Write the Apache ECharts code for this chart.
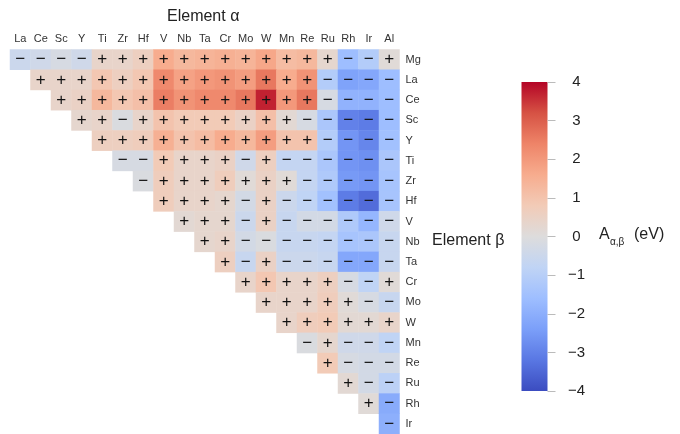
<!DOCTYPE html>
<html>
<head>
<meta charset="utf-8">
<script src="https://cdn.jsdelivr.net/npm/echarts@6/dist/echarts.min.js"></script>
<style>
  html, body { margin: 0; padding: 0; background: #fff; }
  #chart { width: 680px; height: 434px; }
</style>
</head>
<body>
<div id="chart"></div>
<script>
// Element alpha (columns) and element beta (rows)
const colNames = ['La','Ce','Sc','Y','Ti','Zr','Hf','V','Nb','Ta','Cr','Mo','W','Mn','Re','Ru','Rh','Ir','Al'];
const rowNames = ['Mg','La','Ce','Sc','Y','Ti','Zr','Hf','V','Nb','Ta','Cr','Mo','W','Mn','Re','Ru','Rh','Ir'];

// A_{alpha,beta} in eV; row k starts at column k (upper triangle)
const rowMg = [-0.5,-0.4,-0.2,-0.4,0.4,0.4,0.6,1.6,1.3,1.4,1.5,1.4,1.7,1.2,1.3,0.3,-1.6,-1.1,0.1];
const rowLa = [0.4,0.4,0.4,0.9,0.6,0.9,2.3,1.8,2.0,2.1,1.9,2.6,1.6,2.1,-1.1,-2.3,-2.2,-1.6];
const rowCe = [0.4,0.5,1.3,0.9,1.1,2.5,2.1,2.3,2.3,2.6,3.7,2.0,2.6,-0.2,-1.9,-1.9,-1.6];
const rowSc = [0.3,0.4,-0.1,0.4,1.0,0.8,0.8,0.8,0.5,1.1,0.2,-0.2,-1.3,-3.0,-3.1,-1.6];
const rowY  = [0.6,0.6,0.7,1.5,1.0,1.2,1.6,1.3,1.9,1.0,1.0,-1.1,-2.6,-2.9,-1.5];
const rowTi = [-0.2,-0.2,0.8,0.4,0.4,0.5,-0.4,0.6,-0.7,-0.7,-1.3,-2.6,-2.7,-1.3];
const rowZr = [-0.1,0.7,0.4,0.4,0.7,0.1,0.5,0.1,-0.7,-1.2,-2.5,-2.6,-1.4];
const rowHf = [0.7,0.4,0.4,0.3,-0.3,0.5,-0.5,-0.8,-1.5,-3.1,-3.4,-1.4];
const rowV  = [0.2,0.3,0.3,-0.5,0.5,-0.6,-0.3,-0.3,-1.2,-1.8,-0.4];
const rowNb = [0.3,0.4,-0.3,-0.1,-0.6,-0.6,-0.7,-1.4,-1.3,-0.6];
const rowTa = [0.6,-0.6,0.5,-0.5,-0.5,-0.6,-2.2,-2.2,-0.6];
const rowCr = [0.4,0.9,0.4,0.4,0.6,-0.2,-0.8,0.1];
const rowMo = [0.4,0.4,0.4,0.7,0.1,-0.2,-0.6];
const rowW  = [0.4,0.7,0.8,0.2,0.2,0.4];
const rowMn = [-0.1,0.3,-0.4,-0.4,-0.8];
const rowRe = [0.8,-0.2,-0.3,-0.3];
const rowRu = [0.2,-0.3,-0.9];
const rowRh = [0.1,-2.1];
const rowIr = [-2.0];

const rows = [rowMg,rowLa,rowCe,rowSc,rowY,rowTi,rowZr,rowHf,rowV,rowNb,rowTa,rowCr,rowMo,rowW,rowMn,rowRe,rowRu,rowRh,rowIr];

// colour bar ticks
const barMin = -4, barMax = 4, barStep = 1;

// coolwarm colour map, low to high
const coolwarm = ['#3b4cc0','#5977e3','#7b9ff9','#9ebeff','#c0d4f5','#dddcdc','#f2cbb7','#f7ac8e','#ee8468','#d65244','#b40426'];

const cells = [];
rows.forEach((vals, r) => {
  vals.forEach((v, i) => cells.push([r + i, r, v]));
});

const FONT = '"Liberation Sans", Arial, Helvetica, sans-serif';
const minus = s => String(s).replace('-', '\u2212');

const barX = 521.5, barY = 82, barW = 26, barH = 309;

const chart = echarts.init(document.getElementById('chart'), null, { renderer: 'canvas' });
chart.setOption({
  animation: false,
  backgroundColor: '#fff',
  textStyle: { fontFamily: FONT },
  grid: [
    { left: 10, top: 49.5, width: 389.5, height: 387.6 },
    { left: barX, top: barY, width: barW, height: barH }
  ],
  xAxis: [
    {
      type: 'category', data: colNames, position: 'top', gridIndex: 0,
      axisLine: { show: false }, axisTick: { show: false }, splitLine: { show: false },
      axisLabel: { fontSize: 11, color: '#333', margin: 5, interval: 0, fontFamily: FONT }
    },
    { type: 'value', gridIndex: 1, show: false, min: 0, max: 1 }
  ],
  yAxis: [
    {
      type: 'category', data: rowNames, inverse: true, position: 'right', gridIndex: 0,
      axisLine: { show: false }, axisTick: { show: false }, splitLine: { show: false },
      axisLabel: { fontSize: 11, color: '#333', margin: 6, interval: 0, fontFamily: FONT }
    },
    {
      type: 'value', gridIndex: 1, position: 'right', min: barMin, max: barMax, interval: barStep,
      axisLine: { show: false, onZero: false }, splitLine: { show: false },
      axisTick: { show: true, inside: false, length: 8, lineStyle: { color: '#bbb', width: 1 } },
      axisLabel: { fontSize: 15, color: '#222', margin: 29, align: 'center', fontFamily: FONT, formatter: v => minus(v) }
    }
  ],
  visualMap: {
    show: false, type: 'continuous', seriesIndex: 0,
    min: barMin, max: barMax, inRange: { color: coolwarm }
  },
  graphic: [
    {
      type: 'rect', left: barX, top: barY, z: 0,
      shape: { width: barW, height: barH },
      style: {
        fill: new echarts.graphic.LinearGradient(0, 1, 0, 0,
          coolwarm.map((c, i) => ({ offset: i / (coolwarm.length - 1), color: c })))
      }
    },
    { type: 'text', left: 167, top: 9, style: { text: 'Element \u03b1', fill: '#222', font: '16px ' + FONT } },
    { type: 'text', left: 432, top: 233, style: { text: 'Element \u03b2', fill: '#222', font: '16px ' + FONT } },
    { type: 'text', left: 599, top: 227, style: { text: 'A', fill: '#222', font: '16px ' + FONT } },
    { type: 'text', left: 610, top: 237, style: { text: '\u03b1,\u03b2', fill: '#222', font: '10px ' + FONT } },
    { type: 'text', left: 634, top: 227, style: { text: '(eV)', fill: '#222', font: '16px ' + FONT } }
  ],
  series: [
    {
      type: 'heatmap', xAxisIndex: 0, yAxisIndex: 0, data: cells,
      itemStyle: { borderWidth: 0 },
      label: {
        show: true, fontSize: 17, color: '#111', fontFamily: FONT,
        formatter: p => (p.value[2] > 0 ? '+' : '\u2212')
      },
      emphasis: { disabled: true }
    },
    { type: 'scatter', xAxisIndex: 1, yAxisIndex: 1, data: [] }
  ]
});
</script>
</body>
</html>
